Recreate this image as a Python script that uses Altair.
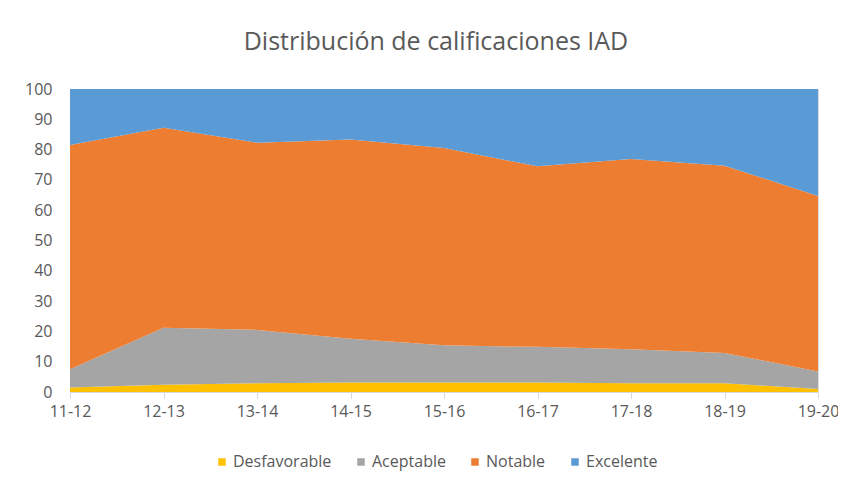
import altair as alt
import pandas as pd

cursos = ["11-12", "12-13", "13-14", "14-15", "15-16", "16-17", "17-18", "18-19", "19-20"]
desfavorable = [1.5, 2.4, 2.9, 3.1, 3.1, 3.1, 2.9, 2.9, 1.0]
aceptable = [6.0, 18.8, 17.6, 14.5, 12.3, 11.8, 11.2, 10.0, 5.8]
notable = [74.0, 66.0, 61.8, 65.7, 65.1, 59.6, 62.8, 61.8, 57.9]
excelente = [18.5, 12.8, 17.7, 16.7, 19.5, 25.5, 23.1, 25.3, 35.3]

series = ["Desfavorable", "Aceptable", "Notable", "Excelente"]
colores = ["#FFC000", "#A5A5A5", "#ED7D31", "#5B9BD5"]
valores = [desfavorable, aceptable, notable, excelente]

rows = []
for k, (s, vals) in enumerate(zip(series, valores)):
    for c, v in zip(cursos, vals):
        rows.append({"curso": c, "serie": s, "valor": v, "orden": k})
df = pd.DataFrame(rows)

FONT = "Open Sans"
GRAY = "#595959"

chart = alt.Chart(df).mark_area(strokeWidth=0).encode(
    x=alt.X("curso:O", sort=cursos, title=None,
            scale=alt.Scale(type="point", padding=0),
            axis=alt.Axis(labelAngle=0, labelFont=FONT, labelFontSize=16, labelColor=GRAY,
                          domainColor="#D9D9D9", tickColor="#D9D9D9", tickSize=6,
                          labelPadding=5, grid=False)),
    y=alt.Y("valor:Q", stack="zero", title=None,
            scale=alt.Scale(domain=[0, 100], nice=False),
            axis=alt.Axis(values=list(range(0, 101, 10)), domain=False, ticks=False, grid=False,
                          labelFont=FONT, labelFontSize=16, labelColor=GRAY, labelPadding=18)),
    color=alt.Color("serie:N", sort=series,
                    scale=alt.Scale(domain=series, range=colores),
                    legend=alt.Legend(title=None, orient="none", direction="horizontal",
                                      legendX=144, legendY=365,
                                      symbolType="square", symbolSize=56, symbolStrokeWidth=0,
                                      labelFont=FONT, labelFontSize=16, labelColor=GRAY,
                                      labelOffset=3, columnPadding=21)),
    order=alt.Order("orden:Q", sort="ascending"),
).properties(
    width=748,
    height=303,
    title=alt.TitleParams("Distribución de calificaciones IAD", font=FONT, fontSize=25,
                          fontWeight="normal", color=GRAY, anchor="middle", dx=-8,
                          baseline="alphabetic", offset=6),
    padding={"left": 62, "top": 81, "right": 20, "bottom": 80},
    autosize=alt.AutoSizeParams(type="none"),
).configure_view(stroke=None).configure(background="white")

chart.save("out.html", embed_options={"renderer": "svg", "actions": False})
